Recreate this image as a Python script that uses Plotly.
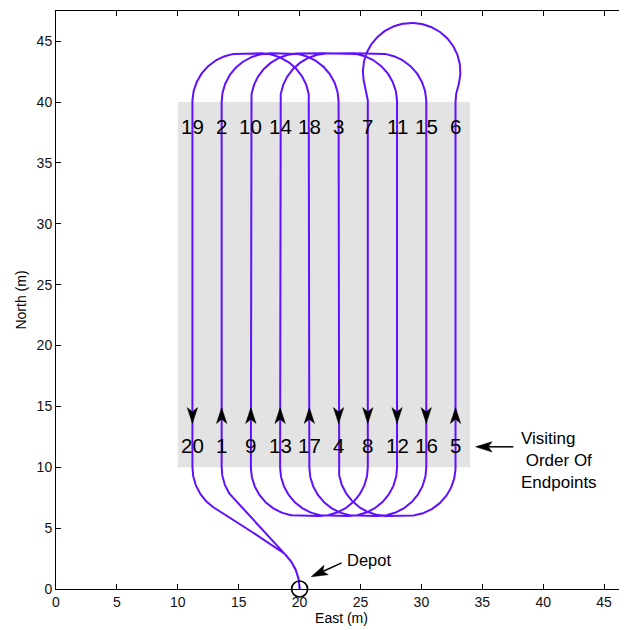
import math
import plotly.graph_objects as go

# ---------------- data ----------------
TRACK_X = [11.2, 13.6, 16.0, 18.4, 20.8, 23.2, 25.6, 28.0, 30.4, 32.8]
TOP_ORDER = [19, 2, 10, 14, 18, 3, 7, 11, 15, 6]
BOTTOM_ORDER = [20, 1, 9, 13, 17, 4, 8, 12, 16, 5]
TRACK_Y_BOTTOM = 10.0
TRACK_Y_TOP = 40.0
AREA_X = [10.0, 34.0]
AREA_Y = [10.0, 40.0]
DEPOT = (20.0, 0.0)
DEPOT_HEADING_OUT = 90.0
DEPOT_HEADING_IN = 270.0
TURN_RADIUS = 4.0
X_TICKS = [0, 5, 10, 15, 20, 25, 30, 35, 40, 45]
Y_TICKS = [0, 5, 10, 15, 20, 25, 30, 35, 40, 45]

PATH_COLOR = "#6010ff"
AREA_COLOR = "#e3e3e3"
FONT = "Liberation Sans, Arial, sans-serif"

TWO_PI = 2 * math.pi


def mod2pi(t):
    v = t % TWO_PI
    if v > TWO_PI - 1e-9:
        v = 0.0
    return v


def dubins_shortest(q0, q1, r):
    dx, dy = q1[0] - q0[0], q1[1] - q0[1]
    D = math.hypot(dx, dy)
    d = D / r
    th = mod2pi(math.atan2(dy, dx)) if d > 0 else 0.0
    a = mod2pi(q0[2] - th)
    b = mod2pi(q1[2] - th)
    sa, sb, ca, cb = math.sin(a), math.sin(b), math.cos(a), math.cos(b)
    cab = math.cos(a - b)
    dsq = d * d
    cands = []
    p2 = 2 + dsq - 2 * cab + 2 * d * (sa - sb)
    if p2 >= 0:
        t1 = math.atan2(cb - ca, d + sa - sb)
        cands.append(("LSL", (mod2pi(t1 - a), math.sqrt(p2), mod2pi(b - t1))))
    p2 = 2 + dsq - 2 * cab + 2 * d * (sb - sa)
    if p2 >= 0:
        t1 = math.atan2(ca - cb, d - sa + sb)
        cands.append(("RSR", (mod2pi(a - t1), math.sqrt(p2), mod2pi(t1 - b))))
    p2 = -2 + dsq + 2 * cab + 2 * d * (sa + sb)
    if p2 >= 0:
        p = math.sqrt(p2)
        t0 = math.atan2(-ca - cb, d + sa + sb) - math.atan2(-2.0, p)
        cands.append(("LSR", (mod2pi(t0 - a), p, mod2pi(t0 - mod2pi(b)))))
    p2 = -2 + dsq + 2 * cab - 2 * d * (sa + sb)
    if p2 >= 0:
        p = math.sqrt(p2)
        t0 = math.atan2(ca + cb, d - sa - sb) - math.atan2(2.0, p)
        cands.append(("RSL", (mod2pi(a - t0), p, mod2pi(b - t0))))
    tmp = (6.0 - dsq + 2 * cab + 2 * d * (sa - sb)) / 8.0
    if abs(tmp) <= 1:
        phi = math.atan2(ca - cb, d - sa + sb)
        p = mod2pi(TWO_PI - math.acos(tmp))
        t = mod2pi(a - phi + mod2pi(p / 2.0))
        cands.append(("RLR", (t, p, mod2pi(a - b - t + mod2pi(p)))))
    tmp = (6.0 - dsq + 2 * cab + 2 * d * (sb - sa)) / 8.0
    if abs(tmp) <= 1:
        phi = math.atan2(ca - cb, d + sa - sb)
        p = mod2pi(TWO_PI - math.acos(tmp))
        t = mod2pi(-a - phi + p / 2.0)
        cands.append(("LRL", (t, p, mod2pi(mod2pi(b) - a - t + mod2pi(p)))))
    return min(cands, key=lambda c: sum(c[1]))


def sample_dubins(q0, q1, r, step=0.02):
    kind, lens = dubins_shortest(q0, q1, r)
    x, y, th = q0
    xs, ys = [x], [y]
    for seg, L in zip(kind, lens):
        n = max(2, int(L / step) + 1)
        for i in range(1, n + 1):
            s = L * i / n
            if seg == "L":
                px = x + r * (math.sin(th + s) - math.sin(th))
                py = y + r * (-math.cos(th + s) + math.cos(th))
            elif seg == "R":
                px = x + r * (-math.sin(th - s) + math.sin(th))
                py = y + r * (math.cos(th - s) - math.cos(th))
            else:
                px = x + r * s * math.cos(th)
                py = y + r * s * math.sin(th)
            xs.append(px)
            ys.append(py)
        if seg == "L":
            x, y, th = xs[-1], ys[-1], th + L
        elif seg == "R":
            x, y, th = xs[-1], ys[-1], th - L
        else:
            x, y = xs[-1], ys[-1]
    return xs, ys


# endpoints by visiting order
endpoints = {}
for i, xt in enumerate(TRACK_X):
    endpoints[TOP_ORDER[i]] = (xt, TRACK_Y_TOP)
    endpoints[BOTTOM_ORDER[i]] = (xt, TRACK_Y_BOTTOM)
n_end = len(endpoints)

path_x, path_y = [], []
pose = (DEPOT[0], DEPOT[1], math.radians(DEPOT_HEADING_OUT))
track_dirs = []
for k in range(1, n_end + 1, 2):
    a = endpoints[k]
    b = endpoints[k + 1]
    h = math.atan2(b[1] - a[1], b[0] - a[0])
    xs, ys = sample_dubins(pose, (a[0], a[1], h), TURN_RADIUS)
    path_x += xs
    path_y += ys
    path_x += [b[0]]
    path_y += [b[1]]
    track_dirs.append((a[0], 1 if b[1] > a[1] else -1))
    pose = (b[0], b[1], h)
xs, ys = sample_dubins(pose, (DEPOT[0], DEPOT[1], math.radians(DEPOT_HEADING_IN)), TURN_RADIUS)
path_x += xs
path_y += ys


def head_polygon(tip, u, length, width, notch):
    ux, uy = u
    px, py = -uy, ux
    bx, by = tip[0] - ux * length, tip[1] - uy * length
    return [
        (tip[0], tip[1]),
        (bx + px * width / 2, by + py * width / 2),
        (bx + ux * notch, by + uy * notch),
        (bx - px * width / 2, by - py * width / 2),
        (tip[0], tip[1]),
    ]


ARROW_MID_Y = 14.25
ARROW_LEN = 1.3
ARROW_W = 0.85
ARROW_NOTCH = 0.35

head_x, head_y = [], []
for xt, dirn in track_dirs:
    tip = (xt, ARROW_MID_Y + dirn * ARROW_LEN / 2)
    poly = head_polygon(tip, (0, dirn), ARROW_LEN, ARROW_W, ARROW_NOTCH)
    head_x += [p[0] for p in poly] + [None]
    head_y += [p[1] for p in poly] + [None]

# annotation arrows (tail -> tip)
CALLOUTS = [((23.45, 2.15), (20.95, 1.0)), ((37.55, 11.68), (34.45, 11.68))]
shaft_x, shaft_y = [], []
for tail, tip in CALLOUTS:
    L = math.hypot(tip[0] - tail[0], tip[1] - tail[1])
    u = ((tip[0] - tail[0]) / L, (tip[1] - tail[1]) / L)
    poly = head_polygon(tip, u, 1.35, 0.85, 0.3)
    head_x += [p[0] for p in poly] + [None]
    head_y += [p[1] for p in poly] + [None]
    shaft_x += [tail[0], poly[2][0], None]
    shaft_y += [tail[1], poly[2][1], None]

fig = go.Figure()
fig.add_shape(type="rect", x0=AREA_X[0], x1=AREA_X[1], y0=AREA_Y[0], y1=AREA_Y[1],
              fillcolor=AREA_COLOR, line=dict(width=0), layer="below")
fig.add_trace(go.Scatter(x=path_x, y=path_y, mode="lines",
                         line=dict(color=PATH_COLOR, width=2), hoverinfo="skip"))
fig.add_trace(go.Scatter(x=shaft_x, y=shaft_y, mode="lines",
                         line=dict(color="black", width=1.5), hoverinfo="skip"))
fig.add_trace(go.Scatter(x=head_x, y=head_y, mode="lines", fill="toself",
                         fillcolor="black", line=dict(color="black", width=0.5),
                         hoverinfo="skip"))
fig.add_trace(go.Scatter(x=[DEPOT[0]], y=[DEPOT[1]], mode="markers",
                         marker=dict(symbol="circle-open", size=16,
                                     line=dict(color="black", width=1.7), color="black"),
                         hoverinfo="skip", cliponaxis=False))

annotations = []
for i, xt in enumerate(TRACK_X):
    annotations.append(dict(x=xt, y=38.0, text=str(TOP_ORDER[i]), showarrow=False,
                            font=dict(size=20.5, color="black", family=FONT)))
    annotations.append(dict(x=xt, y=11.8, text=str(BOTTOM_ORDER[i]), showarrow=False,
                            font=dict(size=20.5, color="black", family=FONT)))
annotations.append(dict(x=23.75, y=2.35, text="Depot", showarrow=False, xanchor="left",
                        font=dict(size=16.5, color="black", family=FONT)))
annotations.append(dict(x=38.05, y=10.55, text="Visiting<br>\u00a0Order Of<br>Endpoints",
                        showarrow=False, xanchor="left", align="left",
                        font=dict(size=17, color="black", family=FONT)))

# page body adds an 8px offset; margins compensate so the plot area sits at
# x 56..627, y 10.7..589 in the window
fig.update_layout(
    width=627, height=630,
    margin=dict(l=48, r=8, t=3, b=49, autoexpand=False),
    paper_bgcolor="white", plot_bgcolor="white",
    showlegend=False,
    annotations=annotations,
    font=dict(family=FONT, color="black", size=14),
)
fig.update_xaxes(range=[0, 46.88], tickvals=X_TICKS, ticks="inside", ticklen=5,
                 tickcolor="black", showline=True, linecolor="black", linewidth=1,
                 mirror="ticks", showgrid=False, zeroline=False,
                 tickfont=dict(size=14, family=FONT, color="#111"),
                 title=dict(text="East (m)", font=dict(size=14, family=FONT), standoff=2))
fig.update_yaxes(range=[0, 47.48], tickvals=Y_TICKS, ticks="inside", ticklen=5,
                 tickcolor="black", showline=True, linecolor="black", linewidth=1,
                 mirror=False, showgrid=False, zeroline=False,
                 tickfont=dict(size=14, family=FONT, color="#111"),
                 title=dict(text="North (m)", font=dict(size=14, family=FONT), standoff=6))

fig.write_html("out.html")
